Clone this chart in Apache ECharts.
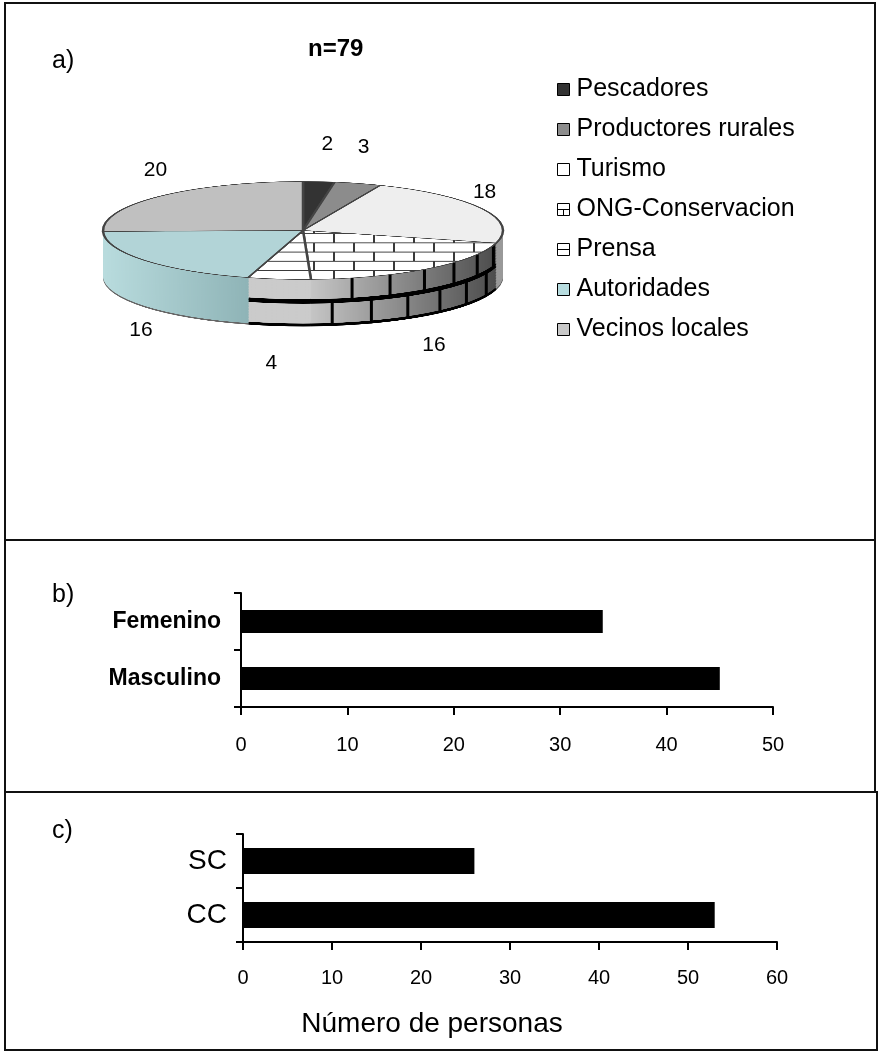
<!DOCTYPE html>
<html>
<head>
<meta charset="utf-8">
<script src="https://cdn.jsdelivr.net/npm/echarts@6/dist/echarts.min.js"></script>
<style>
html, body { margin: 0; padding: 0; background: #fff; }
#wrap { position: relative; width: 878px; height: 1053px; }
#pie3d { position: absolute; left: 93px; top: 178.5px; width: 420px; height: 620px;
         transform: scaleY(0.245); transform-origin: 0 0; }
#main { position: absolute; left: 0; top: 0; width: 878px; height: 1053px; }
</style>
</head>
<body>
<div id="wrap"><div id="pie3d"></div><div id="main"></div></div>
<script>
// a) actores
var actores = ['Pescadores', 'Productores rurales', 'Turismo', 'ONG-Conservacion', 'Prensa', 'Autoridades', 'Vecinos locales'];
var actoresN = [2, 3, 18, 16, 4, 16, 20];
// b) sexo
var sexo = ['Masculino', 'Femenino'];
var sexoN = [45, 34];
// c) grupo
var grupo = ['CC', 'SC'];
var grupoN = [53, 26];
var ticksB = [0, 10, 20, 30, 40, 50];
var ticksC = [0, 10, 20, 30, 40, 50, 60];

var FONT = 'Liberation Sans, Arial, sans-serif';

// ---------- pie "3d": squashed with css, side built from stacked layers ----------
var K = 0.245, PCX = 210, PCY = 210, PR = 200, DEPTH = 192;

function cnv(w, h, draw) {
  var c = document.createElement('canvas');
  c.width = w; c.height = h;
  draw(c.getContext('2d'));
  return c;
}
var brickTop = cnv(40, 74, function (g) {
  g.fillStyle = '#fff'; g.fillRect(0, 0, 40, 74);
  g.fillStyle = '#3a3a3a';
  g.fillRect(0, 0, 40, 4); g.fillRect(0, 37, 40, 4);
  g.fillRect(0, 0, 2, 37); g.fillRect(20, 37, 2, 37);
});
var lineTop = cnv(40, 37, function (g) {
  g.fillStyle = '#fff'; g.fillRect(0, 0, 40, 37);
  g.fillStyle = '#3a3a3a'; g.fillRect(0, 0, 40, 4);
});
function sideRow(shift) {
  return cnv(420, 2, function (g) {
    var gr = g.createLinearGradient(217, 0, 407, 0);
    gr.addColorStop(0, '#c6c6c6'); gr.addColorStop(1, '#4a4a4a');
    g.fillStyle = gr; g.fillRect(0, 0, 420, 2);
    g.fillStyle = '#000';
    for (var a = 177.4 - shift; a > 100; a -= 11.6) {
      var x = PCX + PR * Math.sin(a * Math.PI / 180);
      g.fillRect(x - 1.5, 0, 3, 2);
    }
  });
}
var rowA = sideRow(11.6), rowB = sideRow(5.8);
var autSide = { type: 'linear', x: 10, y: 0, x2: 155, y2: 0, global: true,
  colorStops: [{ offset: 0, color: '#b9dcde' }, { offset: 1, color: '#8fb4b7' }] };

var topColors = ['#333333', '#8c8c8c', '#eeeeee',
  { image: brickTop, repeat: 'repeat' }, { image: lineTop, repeat: 'repeat' },
  '#b2d4d7', '#c0c0c0'];

function sideColors(dv) {
  if (dv > 46) return ['#555', '#555', '#555', '#000', '#000', '#666', '#555'];
  var mortar = (dv > 20.5 && dv < 24.5) || dv > 44.5;
  var row = dv < 22.5 ? rowA : rowB;
  return ['#222', '#666', '#9a9a9a',
    mortar ? '#000' : { image: row, repeat: 'repeat' },
    mortar ? '#000' : '#cbcbcb', autSide, '#999'];
}

function pieLayer(dy, colors, border) {
  return {
    type: 'pie', silent: true, animation: false,
    center: [PCX, PCY + dy], radius: PR, startAngle: 90, clockwise: true,
    label: { show: false }, labelLine: { show: false },
    itemStyle: border ? { borderColor: '#444', borderWidth: 2.5 } : { borderWidth: 0 },
    data: actores.map(function (n, i) {
      return { name: n, value: actoresN[i], itemStyle: { color: colors[i] } };
    })
  };
}

var layers = [];
for (var d = DEPTH; d > 0; d -= 3) layers.push(pieLayer(d, sideColors(d * K), false));
layers.push(pieLayer(0, topColors, true));

var pie3d = echarts.init(document.getElementById('pie3d'));
pie3d.setOption({ animation: false, series: layers });

// ---------- overlay: panels, legend, labels, bars ----------
var legendColors = ['#333333', '#8c8c8c', '#ffffff', '#ffffff', '#ffffff', '#b7dcdf', '#c8c8c8'];
var iconOng = 'path://M0,0H10V10H0Z M0,5H10 M5,5V10';
var iconPrensa = 'path://M0,0H10V10H0Z M0,5H10';

function axisX(grid, ticks) {
  return {
    gridIndex: grid, type: 'value',
    min: ticks[0], max: ticks[ticks.length - 1], interval: ticks[1] - ticks[0],
    axisLine: { show: true, lineStyle: { color: '#000', width: 2 } },
    axisTick: { show: true, length: 8, lineStyle: { color: '#000', width: 2 } },
    splitLine: { show: false },
    axisLabel: { color: '#000', fontSize: 20, fontFamily: FONT, margin: 28 }
  };
}
function axisY(grid, cats, bold, size, margin) {
  return {
    gridIndex: grid, type: 'category', data: cats,
    axisLine: { show: true, lineStyle: { color: '#000', width: 2 } },
    axisTick: { show: true, length: 7, lineStyle: { color: '#000', width: 2 } },
    axisLabel: { color: '#000', fontSize: size, fontWeight: bold ? 'bold' : 'normal',
                 fontFamily: FONT, margin: margin }
  };
}

var xC = axisX(1, ticksC);
xC.axisLabel.margin = 26;
xC.name = 'Número de personas';
xC.nameLocation = 'middle';
xC.nameGap = 68;
xC.nameTextStyle = { color: '#000', fontSize: 28, fontFamily: FONT, padding: [0, 156, 0, 0] };

var chart = echarts.init(document.getElementById('main'));
chart.setOption({
  animation: false,
  textStyle: { fontFamily: FONT },
  title: {
    text: 'n=79', left: 303, top: 32,
    textStyle: { fontSize: 24, fontWeight: 'bold', color: '#000', fontFamily: FONT }
  },
  graphic: [
    { type: 'rect', shape: { x: 5, y: 3, width: 870, height: 537 },
      style: { fill: 'none', stroke: '#111', lineWidth: 2 } },
    { type: 'rect', shape: { x: 5, y: 540, width: 870, height: 252 },
      style: { fill: 'none', stroke: '#111', lineWidth: 2 } },
    { type: 'rect', shape: { x: 5, y: 792, width: 872, height: 258 },
      style: { fill: 'none', stroke: '#111', lineWidth: 2 } },
    { type: 'text', x: 52, y: 49, style: { text: 'a)', fill: '#000', font: '25px ' + FONT } },
    { type: 'text', x: 52, y: 583, style: { text: 'b)', fill: '#000', font: '25px ' + FONT } },
    { type: 'text', x: 52, y: 819, style: { text: 'c)', fill: '#000', font: '25px ' + FONT } }
  ],
  legend: {
    orient: 'vertical', left: 552, top: 72,
    itemWidth: 12, itemHeight: 12, itemGap: 15,
    textStyle: { fontSize: 25, color: '#000', fontFamily: FONT, padding: [0, 0, 0, 2] },
    itemStyle: { borderColor: '#000', borderWidth: 1, opacity: 1 },
    data: actores.map(function (n, i) {
      var it = { name: n, itemStyle: { color: legendColors[i], opacity: 1 } };
      if (i === 3) it.icon = iconOng;
      else if (i === 4) it.icon = iconPrensa;
      else it.icon = 'rect';
      return it;
    })
  },
  grid: [
    { left: 241, top: 593, width: 532, height: 114 },
    { left: 243, top: 834, width: 534, height: 108 }
  ],
  xAxis: [axisX(0, ticksB), xC],
  yAxis: [axisY(0, sexo, true, 23, 20), axisY(1, grupo, false, 28, 16)],
  series: [
    {
      type: 'pie', name: 'a', silent: true,
      center: [303, 230], radius: [199, 200], startAngle: 90, clockwise: true,
      avoidLabelOverlap: false,
      itemStyle: { borderWidth: 0, color: 'rgba(0,0,0,0)' },
      label: { show: true, position: 'outside', formatter: '{c}', fontSize: 21, color: '#000', fontFamily: FONT },
      labelLine: { show: false, length: 14, length2: 0 },
      labelLayout: function (p) {
        var r = p.labelRect, cx = r.x + r.width / 2, cy = r.y + r.height / 2, rel = cy - 230;
        var ny = 230 + rel * 0.4 + (rel > 0 ? 48 : 0);
        var nx = 303 + (cx - 303) * 0.87;
        return { dx: nx - cx, dy: ny - cy };
      },
      data: actores.map(function (n, i) {
        return { name: n, value: actoresN[i] };
      })
    },
    {
      type: 'bar', xAxisIndex: 0, yAxisIndex: 0, data: sexoN, barWidth: 23,
      itemStyle: { color: '#000' }, silent: true
    },
    {
      type: 'bar', xAxisIndex: 1, yAxisIndex: 1, data: grupoN, barWidth: 26,
      itemStyle: { color: '#000' }, silent: true
    }
  ]
});
</script>
</body>
</html>
